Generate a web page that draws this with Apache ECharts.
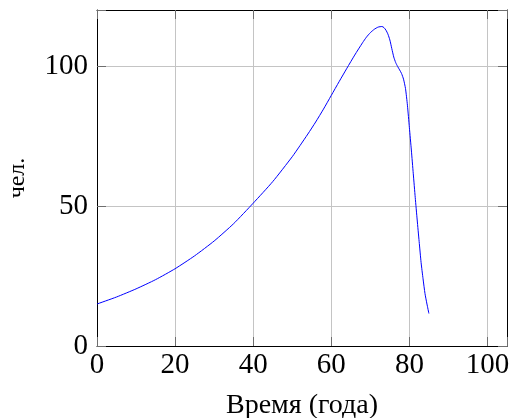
<!DOCTYPE html>
<html>
<head>
<meta charset="utf-8">
<script src="https://cdn.jsdelivr.net/npm/echarts@6/dist/echarts.min.js"></script>
<style>
  html, body { margin: 0; padding: 0; background: #fff; }
  #chart { width: 510px; height: 418px; }
</style>
</head>
<body>
<div id="chart"></div>
<script>
const years = [0, 5, 10, 15, 20, 25, 30, 35, 40, 45, 50, 52, 54, 56, 58, 60, 62, 64, 66, 68, 69, 70, 71, 72, 73, 73.5, 74, 74.5, 75, 75.5, 76, 76.5, 77, 77.5, 78, 78.5, 79, 79.5, 80, 80.5, 81, 81.5, 82, 82.5, 83, 83.5, 84, 84.5, 85];
const people = [15, 17.5, 20.4, 23.7, 27.6, 32.2, 37.5, 43.7, 51, 58.7, 67.6, 71.6, 75.7, 80, 84.6, 89.5, 94.4, 99.2, 103.9, 108.3, 110.3, 111.9, 113.1, 113.9, 114.1, 113.7, 112.8, 111.4, 109.3, 106.2, 103.2, 101.2, 99.8, 98.6, 97.3, 95.3, 92, 86, 78, 70, 61.5, 53, 45, 37.3, 29.8, 24, 18.7, 15, 11.6];
const xTicks = [0, 20, 40, 60, 80, 100];
const yTicks = [0, 50, 100];
const xLabel = 'Время (года)';
const yLabel = 'чел.';

const FONT = '"Liberation Serif", "DejaVu Serif", serif';
const chart = echarts.init(document.getElementById('chart'), null, { renderer: 'canvas' });

const pts = years.map((x, i) => [x, people[i]]);

const baseAxis = {
  axisLine: { show: true, onZero: false, lineStyle: { color: '#000', width: 1 } },
  axisTick: { show: true, inside: true, length: 9, lineStyle: { color: '#6e6e6e', width: 1 } },
  splitLine: { show: false },
  axisLabel: { show: false }
};

chart.setOption({
  animation: false,
  backgroundColor: '#fff',
  grid: { left: 97, right: 3, top: 10, bottom: 72, containLabel: false, outerBoundsMode: 'none' },
  xAxis: [
    Object.assign({}, baseAxis, {
      type: 'value', min: 0, max: 105, interval: 20, position: 'bottom',
      name: xLabel, nameLocation: 'middle', nameGap: 46,
      nameTextStyle: { fontFamily: FONT, fontSize: 28, color: '#000' },
      splitLine: { show: true, lineStyle: { color: '#c4c4c4', width: 1 } },
      axisLabel: {
        show: true, margin: 5, fontFamily: FONT, fontSize: 29, color: '#000',
        formatter: v => xTicks.includes(v) ? String(v) : ''
      }
    }),
    Object.assign({}, baseAxis, { type: 'value', min: 0, max: 105, interval: 20, position: 'top' })
  ],
  yAxis: [
    Object.assign({}, baseAxis, {
      type: 'value', min: 0, max: 120, interval: 50, position: 'left',
      name: yLabel, nameLocation: 'middle', nameGap: 67, nameRotate: 90,
      nameTextStyle: { fontFamily: FONT, fontSize: 24, color: '#000' },
      splitLine: { show: true, lineStyle: { color: '#c4c4c4', width: 1 } },
      axisLabel: {
        show: true, margin: 9, fontFamily: FONT, fontSize: 29, color: '#000',
        formatter: v => yTicks.includes(v) ? String(v) : ''
      }
    }),
    Object.assign({}, baseAxis, { type: 'value', min: 0, max: 120, interval: 50, position: 'right' })
  ],
  series: [{
    type: 'line',
    data: pts,
    xAxisIndex: 0, yAxisIndex: 0,
    showSymbol: false,
    smooth: 0.2,
    lineStyle: { color: '#0000ff', width: 1 },
    itemStyle: { color: '#0000ff' }
  }]
});
</script>
</body>
</html>
